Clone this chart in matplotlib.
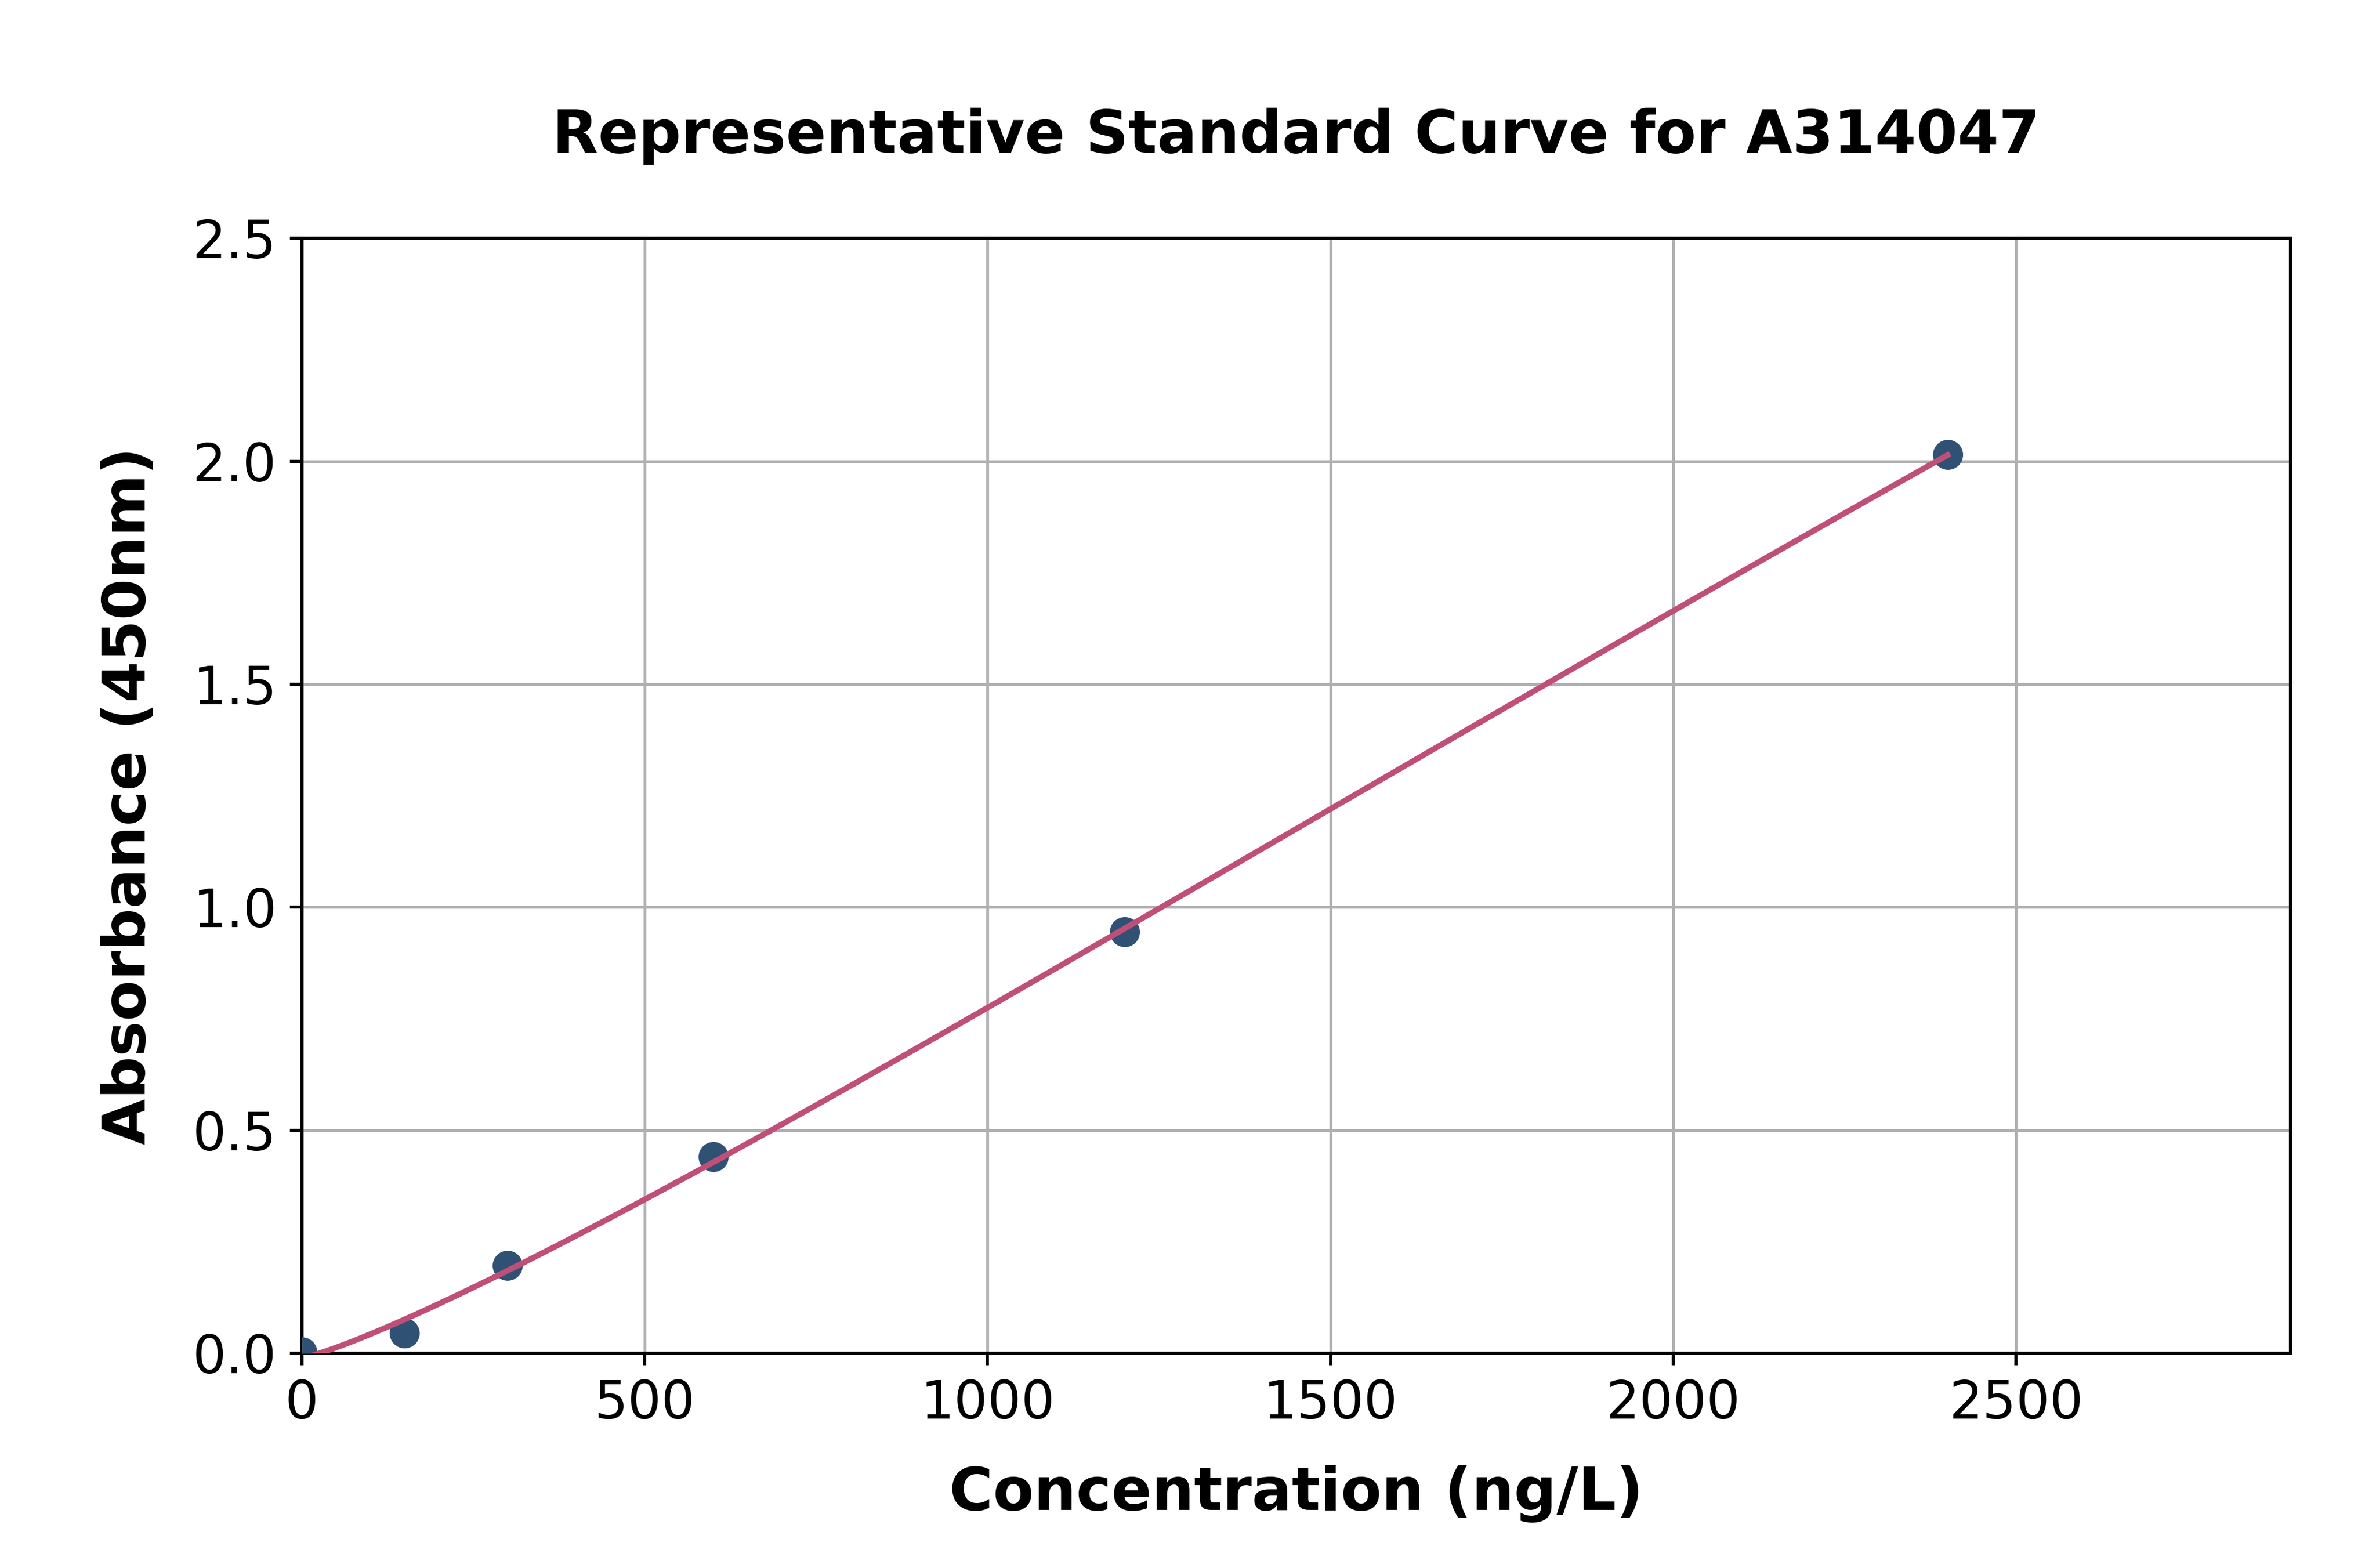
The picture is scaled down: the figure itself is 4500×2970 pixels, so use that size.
import numpy as np
import matplotlib
matplotlib.use("Agg")
from matplotlib import pyplot as plt

conc = np.array([0, 150, 300, 600, 1200, 2400], dtype=float)
absorb = np.array([0.002, 0.045, 0.197, 0.44, 0.945, 2.015])


def four_pl(x, a, b, c, d):
    return d + (a - d) / (1.0 + (x / c) ** b)


def fit_4pl(x, y, p0, n_iter=2000):
    # plain levenberg-marquardt, no scipy here
    p = np.array(p0, dtype=float)
    lam = 1e-3
    xs = np.maximum(x, 1e-9)

    def resid(q):
        return y - four_pl(xs, *q)

    r = resid(p)
    cost = np.sum(r ** 2)
    for _ in range(n_iter):
        J = np.zeros((len(x), 4))
        for i in range(4):
            h = 1e-6 * max(abs(p[i]), 1e-3)
            dp = p.copy()
            dp[i] += h
            J[:, i] = (four_pl(xs, *dp) - four_pl(xs, *p)) / h
        A = J.T @ J
        g = J.T @ r
        step = np.linalg.solve(A + lam * np.diag(np.diag(A) + 1e-12), g)
        newp = p + step
        if newp[2] <= 0 or newp[1] <= 0:
            lam *= 10
            continue
        nr = resid(newp)
        ncost = np.sum(nr ** 2)
        if ncost < cost:
            p, r, cost = newp, nr, ncost
            lam *= 0.3
        else:
            lam *= 10
        if lam > 1e12:
            break
    return p


params = fit_4pl(conc, absorb, [-0.05, 1.3, 3000.0, 5.0])
xx = np.linspace(0, conc.max(), 400)
yy = four_pl(np.maximum(xx, 1e-9), *params)

fig = plt.figure(figsize=(15, 9.9), dpi=300)
ax = fig.add_axes([0.127, 0.137, 0.837, 0.711])

ax.grid(True, color="#b0b0b0", linewidth=1.3, zorder=0)
ax.scatter(conc, absorb, s=160, color="#2f5274", zorder=3)
ax.plot(xx, yy, color="#c04f78", linewidth=2.6, zorder=4)

ax.set_xlim(0, 2900)
ax.set_ylim(0, 2.5)
ax.set_xticks([0, 500, 1000, 1500, 2000, 2500])
ax.set_yticks([0.0, 0.5, 1.0, 1.5, 2.0, 2.5])
ax.tick_params(labelsize=24, width=1.4, length=5.5, pad=6)
for s in ax.spines.values():
    s.set_linewidth(1.4)

ax.set_xlabel("Concentration (ng/L)", fontsize=27, fontweight="bold", labelpad=16)
ax.set_ylabel("Absorbance (450nm)", fontsize=27, fontweight="bold", labelpad=16)
ax.set_title("Representative Standard Curve for A314047", fontsize=27, fontweight="bold", pad=39)

fig.savefig("out.png", dpi=300)
